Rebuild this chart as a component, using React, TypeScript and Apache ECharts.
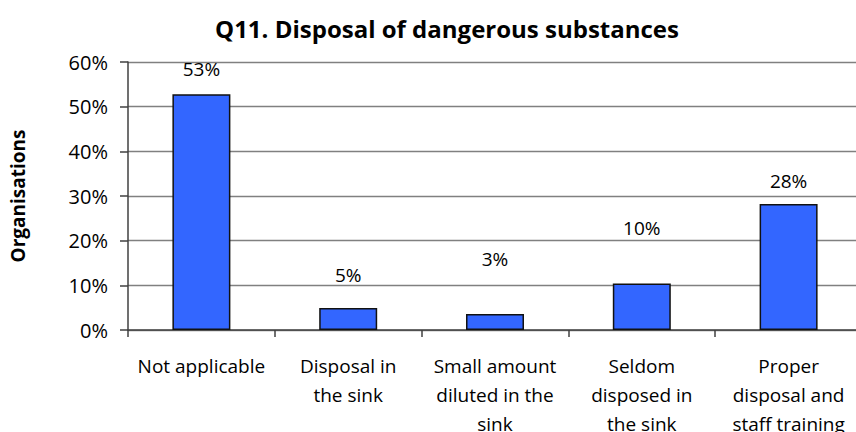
import React, { useEffect, useRef } from "react";
import * as echarts from "echarts";

const categories = [
  "Not applicable",
  "Disposal in\nthe sink",
  "Small amount\ndiluted in the\nsink",
  "Seldom\ndisposed in\nthe sink",
  "Proper\ndisposal and\nstaff training",
];
const values = [52.8, 4.9, 3.6, 10.4, 28.2];
const valueLabels = ["53%", "5%", "3%", "10%", "28%"];
const labelOffsets = [-10, -18, -39, -40, -8];
const yTicks = [0, 10, 20, 30, 40, 50, 60];

const FONT = "Open Sans";

export default function App() {
  const ref = useRef<HTMLDivElement>(null);
  useEffect(() => {
    if (!ref.current) return;
    const chart = echarts.init(ref.current, null, { renderer: "svg" });
    chart.setOption({
      animation: false,
      backgroundColor: "#ffffff",
      textStyle: { fontFamily: FONT },
      title: {
        text: "Q11. Disposal of dangerous substances",
        left: 442,
        textAlign: "center",
        top: 11,
        textStyle: { fontFamily: FONT, fontSize: 24, fontWeight: "bold", color: "#000" },
      },
      grid: { left: 128, top: 62, width: 734, height: 268, containLabel: false, outerBoundsMode: "none" },
      xAxis: {
        type: "category",
        data: categories,
        axisLine: { show: true, lineStyle: { color: "#404040", width: 1.5 } },
        axisTick: { show: true, length: 7, lineStyle: { color: "#404040", width: 1.5 } },
        axisLabel: {
          interval: 0,
          margin: 21,
          color: "#000",
          fontFamily: FONT,
          fontSize: 19,
          lineHeight: 29,
        },
      },
      yAxis: {
        type: "value",
        min: yTicks[0],
        max: yTicks[yTicks.length - 1],
        interval: 10,
        name: "Organisations",
        nameLocation: "middle",
        nameGap: 101,
        nameRotate: 90,
        nameTextStyle: { fontFamily: FONT, fontSize: 19, fontWeight: "bold", color: "#000" },
        axisLine: { show: true, lineStyle: { color: "#404040", width: 1.5 } },
        axisTick: { show: true, length: 8, lineStyle: { color: "#404040", width: 1.5 } },
        axisLabel: {
          formatter: "{value}%",
          margin: 20,
          color: "#000",
          fontFamily: FONT,
          fontSize: 20,
        },
        splitLine: { show: true, lineStyle: { color: "#808080", width: 1.3 } },
      },
      series: [
        {
          type: "bar",
          barWidth: "39.5%",
          data: values.map((v, i) => ({
            value: v,
            label: { offset: [0, labelOffsets[i]] },
          })),
          itemStyle: { color: "#3366FF", borderColor: "#111", borderWidth: 1.5 },
          label: {
            show: true,
            position: "top",
            distance: 6,
            color: "#000",
            fontFamily: FONT,
            fontSize: 19,
            formatter: (p: any) => valueLabels[p.dataIndex],
          },
        },
      ],
    });
    return () => chart.dispose();
  }, []);
  return <div ref={ref} style={{ width: 856, height: 432, position: "absolute", left: 0, top: 0 }} />;
}
